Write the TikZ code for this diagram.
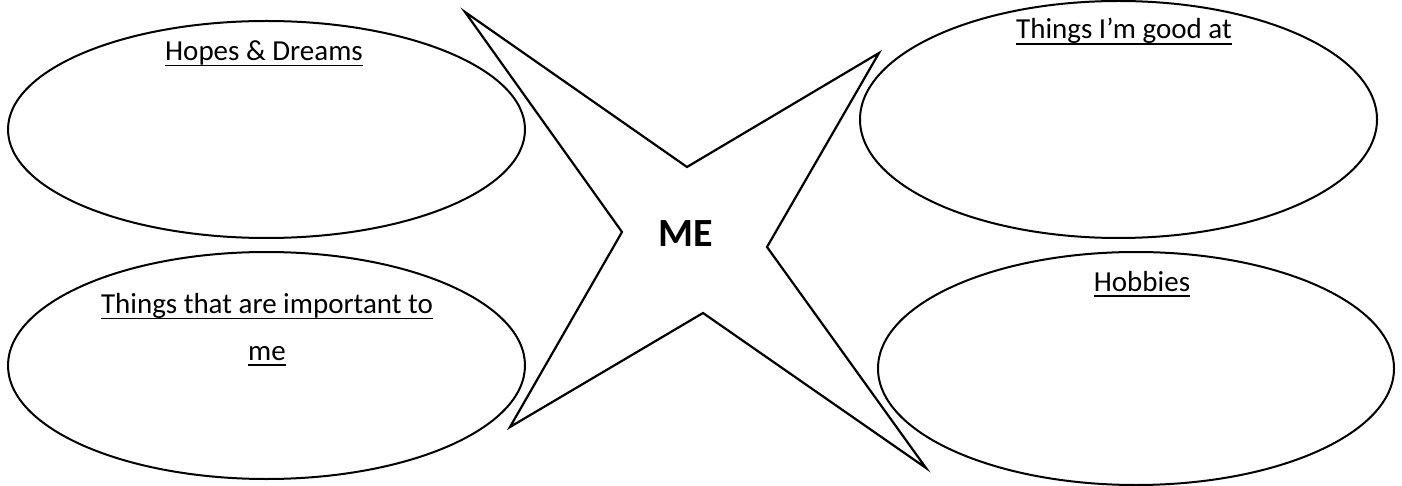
\documentclass[tikz,border=0pt]{standalone}
\usepackage{fontspec}
\setmainfont{Carlito}
\usepackage{tikz}
\usetikzlibrary{shapes.geometric,positioning}

\begin{document}
\begin{tikzpicture}[
  x=1pt, y=-1pt,
  bubble/.style={draw=black, line width=2pt, ellipse, inner sep=0pt, fill=white},
  heading/.style={inner sep=0pt, anchor=base, font=\fontsize{29}{35}\selectfont},
  undl/.style={draw=black, line width=1.8pt},
  starline/.style={draw=black, line width=2.2pt, line join=miter, fill=white}
]
  \useasboundingbox (0,0) rectangle (1402,486);
  % four answer bubbles
  \node[bubble, minimum width=517pt, minimum height=217pt] (hopes) at (266.5,129.5) {};
  \node[bubble, minimum width=517pt, minimum height=227pt] (important) at (266.5,365.5) {};
  \node[bubble, minimum width=517pt, minimum height=237pt] (good) at (1118.5,119.5) {};
  \node[bubble, minimum width=516pt, minimum height=233pt] (hobbies) at (1136,368.5) {};
  % the star in the middle
  \draw[starline] (465,12) -- (687,167) -- (879,53) -- (767,247) -- (926,468)
    -- (703,313) -- (510,427) -- (622,232) -- cycle;
  \node[heading, font=\fontsize{40}{48}\selectfont\bfseries] (me) at (686,247) {ME};
  % headings, underlined
  \node[heading] (hopestxt) at (264,60.5) {Hopes \& Dreams};
  \node[heading] (goodtxt) at (1124,39) {Things I’m good at};
  \node[heading] (imptxt) at (267,313.5) {Things that are important to};
  \node[heading] (imptxtb) at (267,360) {me};
  \node[heading] (hobbiestxt) at (1142,291) {Hobbies};
  \foreach \t in {hopestxt,goodtxt,imptxt,imptxtb,hobbiestxt}
    \draw[undl] ([yshift=-5pt]\t.base west) -- ([yshift=-5pt]\t.base east);
\end{tikzpicture}
\end{document}
